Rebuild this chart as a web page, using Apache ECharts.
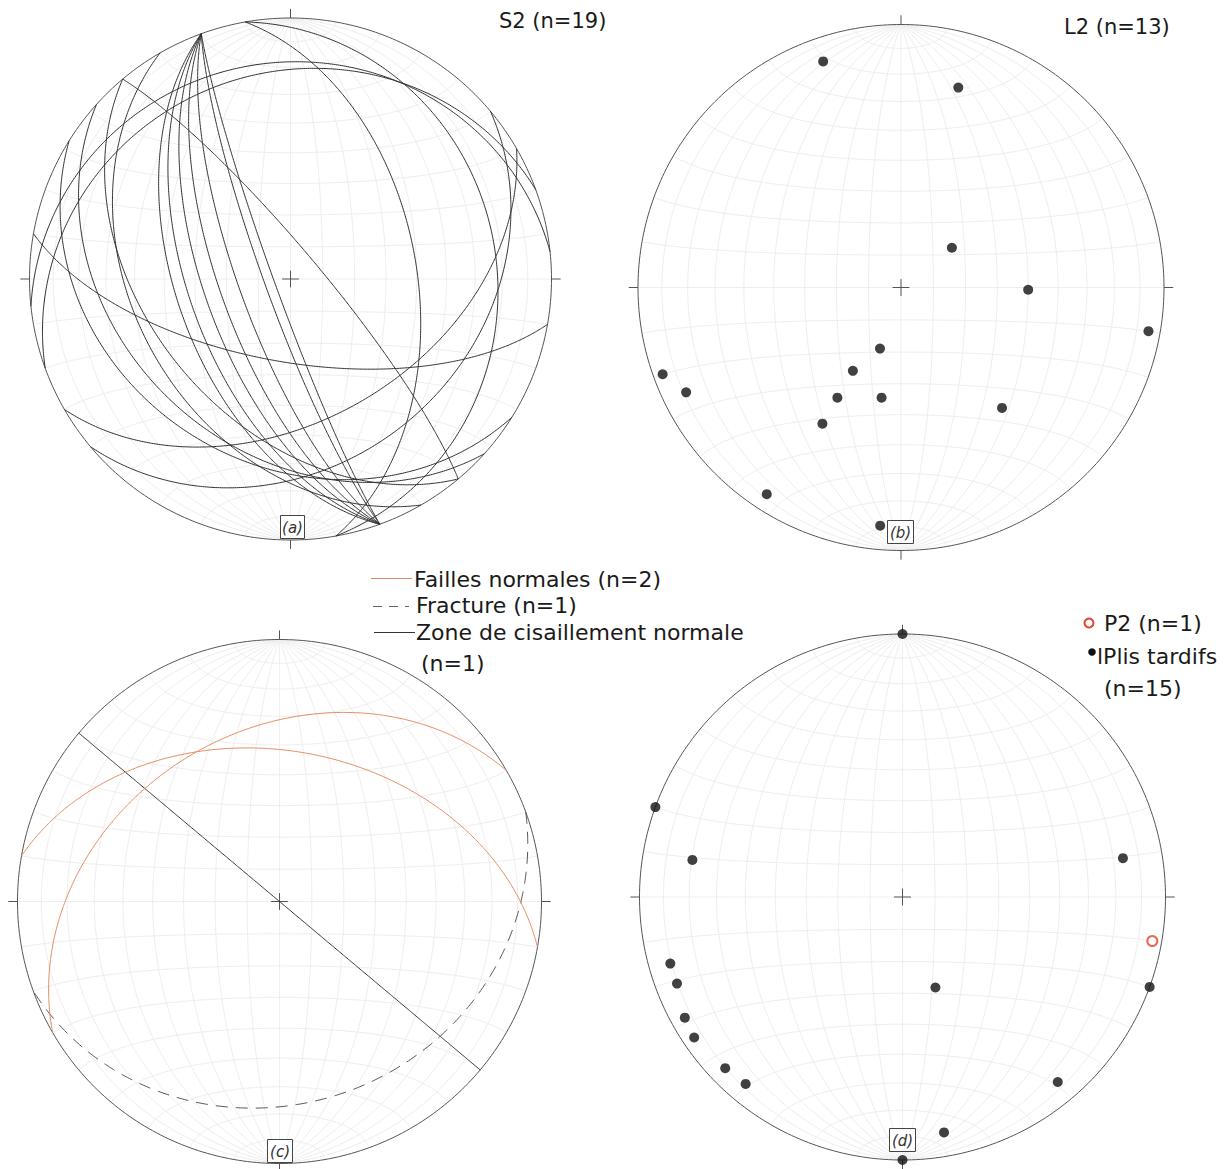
<!DOCTYPE html>
<html><head><meta charset="utf-8">
<script src="https://cdn.jsdelivr.net/npm/echarts@6/dist/echarts.min.js"></script>
<style>html,body{margin:0;padding:0;background:#fff}#chart{width:1230px;height:1169px}</style>
</head><body><div id="chart"></div>
<script>
// ---------------- DATA ----------------
// (a) S2 foliation planes: [strike (right-hand rule), dip]
const planesS2 = [
  [160,85],[160,82],[160,74],[160,68],[160,63],[160,58],[160,54],
  [320,81],[350,50],[100,64],[60,45],[122,30],[132,35],[140,45],
  [150,40],[50,30],[264,18],[250,22],[350,22]
];
// (b) L2 lineations: [trend, plunge]
const linesL2 = [
  [341,10],[16,22],[52,70],[91,50],[100,5],[199,70],[250,4],[210,60],
  [244,10],[210,50],[190,55],[140,40],[210,40],[213,7],[185,10]
];
// (c) planes: [strike (RHR), dip]
const planesFailles = [[280,42],[240,35]];
const planesFracture = [[70,24]];
const planesZone = [[130,90]];
// (d) fold axes: [trend, plunge]
const linesP2 = [[100,4]];
const linesPlisTardifs = [
  [0,0],[290,0],[280,20],[80,16],[254,9],[249,9],[160,60],[110,0],
  [241,6],[236,5],[226,7],[220,8],[140,9],[170,10],[180,0]
];
// texts
const titleA = 'S2 (n=19)';
const titleB = 'L2 (n=13)';
const legendC = ['Failles normales (n=2)', 'Fracture (n=1)', 'Zone de cisaillement normale', '(n=1)'];
const legendD = ['P2 (n=1)', 'lPlis tardifs', '(n=15)'];
const panelLabels = ['(a)', '(b)', '(c)', '(d)'];

// ---------------- LAYOUT ----------------
const NETS = [
  {cx:290.5, cy:279, R:261},
  {cx:901, cy:287.5, R:263},
  {cx:279.5, cy:901.5, R:262},
  {cx:902.5, cy:897, R:263}
];
const FONT = '"DejaVu Sans", sans-serif';

// ---------------- PROJECTION (equal-area, lower hemisphere) ----------------
const rad = Math.PI/180;
function projVec(n, e, d){
  if (d < 0){ n=-n; e=-e; d=-d; }
  const k = 1/Math.sqrt(1+d);
  return [e*k, n*k];
}
function lineXY(trend, plunge){
  const t=trend*rad, p=plunge*rad;
  return projVec(Math.cos(p)*Math.cos(t), Math.cos(p)*Math.sin(t), Math.sin(p));
}
function planeCurve(strike, dip){
  const s=strike*rad, dd=(strike+90)*rad, dp=dip*rad;
  const S=[Math.cos(s), Math.sin(s), 0];
  const D=[Math.cos(dd)*Math.cos(dp), Math.sin(dd)*Math.cos(dp), Math.sin(dp)];
  const pts=[];
  for (let k=0;k<=360;k+=1){
    const th=k*0.5*rad, c=Math.cos(th), si=Math.sin(th);
    pts.push(projVec(S[0]*c+D[0]*si, S[1]*c+D[1]*si, S[2]*c+D[2]*si));
  }
  return pts;
}
function netGrid(){
  const out=[];
  for (let lam=10; lam<=170; lam+=10){
    const pts=[];
    for (let ph=-90; ph<=90; ph+=1){
      const f=ph*rad, l=lam*rad;
      pts.push(projVec(Math.sin(f), Math.cos(f)*Math.cos(l), Math.cos(f)*Math.sin(l)));
    }
    out.push({coords:pts});
  }
  for (let ph=-80; ph<=80; ph+=10){
    const pts=[];
    for (let lam=0; lam<=180; lam+=1){
      const f=ph*rad, l=lam*rad;
      pts.push(projVec(Math.sin(f), Math.cos(f)*Math.cos(l), Math.cos(f)*Math.sin(l)));
    }
    out.push({coords:pts});
  }
  return out;
}
function primitive(){
  const pts=[];
  for (let a=0;a<=360;a+=1) pts.push([Math.sin(a*rad), Math.cos(a*rad)]);
  return [{coords:pts}];
}
function ticks(){
  const L=1.035, c=0.032;
  return [
    {coords:[[0,1],[0,L]]},{coords:[[0,-1],[0,-L]]},
    {coords:[[1,0],[L,0]]},{coords:[[-1,0],[-L,0]]},
    {coords:[[-c,0],[c,0]]},{coords:[[0,-c],[0,c]]}
  ];
}

const grids=[], xAxes=[], yAxes=[], series=[];
NETS.forEach((n,i)=>{
  grids.push({left:n.cx-n.R, top:n.cy-n.R, width:2*n.R, height:2*n.R, containLabel:false, outerBoundsMode:'none'});
  xAxes.push({type:'value', gridIndex:i, min:-1, max:1, show:false});
  yAxes.push({type:'value', gridIndex:i, min:-1, max:1, show:false});
  series.push({type:'lines', coordinateSystem:'cartesian2d', xAxisIndex:i, yAxisIndex:i, polyline:true, silent:true, clip:false,
    lineStyle:{color:'#eeeeee', width:1, opacity:1}, data:netGrid(), z:1});
  series.push({type:'lines', coordinateSystem:'cartesian2d', xAxisIndex:i, yAxisIndex:i, polyline:true, silent:true, clip:false,
    lineStyle:{color:'#555555', width:1, opacity:1}, data:primitive().concat(ticks()), z:3});
});
function planeSeries(idx, planes, style){
  series.push({type:'lines', coordinateSystem:'cartesian2d', xAxisIndex:idx, yAxisIndex:idx, polyline:true, silent:true, clip:false,
    lineStyle:Object.assign({opacity:1, width:1}, style), data:planes.map(p=>({coords:planeCurve(p[0],p[1])})), z:5});
}
function pointSeries(idx, lines, style, size){
  series.push({type:'scatter', xAxisIndex:idx, yAxisIndex:idx, symbol:'circle', symbolSize:size, silent:true, clip:false,
    itemStyle:style, data:lines.map(l=>lineXY(l[0],l[1])), z:6});
}
planeSeries(0, planesS2, {color:'#303030'});
pointSeries(1, linesL2, {color:'#111111'}, 10);
planeSeries(2, planesFracture, {color:'#555555', type:[12,8]});
planeSeries(2, planesZone, {color:'#333333'});
planeSeries(2, planesFailles, {color:'#e58a62'});
pointSeries(3, linesPlisTardifs, {color:'#111111'}, 10);
pointSeries(3, linesP2, {color:'#ffffff', borderColor:'#e2452a', borderWidth:2}, 10);

// ---------------- TEXT / DECOR ----------------
const gfx=[];
function txt(x,y,t,size,opts){
  gfx.push({type:'text', x:x, y:y, z:20,
    style:{text:t, font:(opts&&opts.italic?'italic ':'')+size+'px '+FONT, fill:(opts&&opts.fill)||'#1a1a1a',
      textAlign:(opts&&opts.align)||'left', textVerticalAlign:'middle'}});
}
txt(499, 21, titleA, 21);
txt(1064, 27, titleB, 21);
// legend (c)
gfx.push({type:'line', shape:{x1:371,y1:578.5,x2:412,y2:578.5}, style:{stroke:'#e58a62', lineWidth:1}, z:20});
gfx.push({type:'line', shape:{x1:373,y1:606.5,x2:409,y2:606.5}, style:{stroke:'#666', lineWidth:1, lineDash:[9,7]}, z:20});
gfx.push({type:'line', shape:{x1:374,y1:632.5,x2:415,y2:632.5}, style:{stroke:'#333', lineWidth:1}, z:20});
txt(414, 579, legendC[0], 22);
txt(416, 605.5, legendC[1], 22);
txt(416, 632, legendC[2], 22);
txt(421, 663, legendC[3], 22);
// legend (d)
gfx.push({type:'circle', shape:{cx:1089, cy:623, r:4.5}, style:{fill:'#fff', stroke:'#e2452a', lineWidth:2}, z:20});
gfx.push({type:'circle', shape:{cx:1092, cy:652, r:3.8}, style:{fill:'#111'}, z:20});
txt(1104, 623, legendD[0], 22);
txt(1097, 656, legendD[1], 22);
txt(1104, 688, legendD[2], 22);
// panel labels
const boxes=[[280,515,24,23],[887,520,26,23],[267,1139,25,23],[889,1128,26,23]];
boxes.forEach((b,i)=>{
  gfx.push({type:'rect', shape:{x:b[0]+0.5,y:b[1]+0.5,width:b[2],height:b[3]}, style:{fill:'#fff', stroke:'#444', lineWidth:1}, z:19});
  txt(b[0]+b[2]/2+0.5, b[1]+b[3]/2+1, panelLabels[i], 15, {italic:true, align:'center', fill:'#333'});
});

const chart = echarts.init(document.getElementById('chart'), null, {renderer:'svg'});
chart.setOption({animation:false, backgroundColor:'#ffffff', grid:grids, xAxis:xAxes, yAxis:yAxes, series:series, graphic:{elements:gfx}});
</script></body></html>
